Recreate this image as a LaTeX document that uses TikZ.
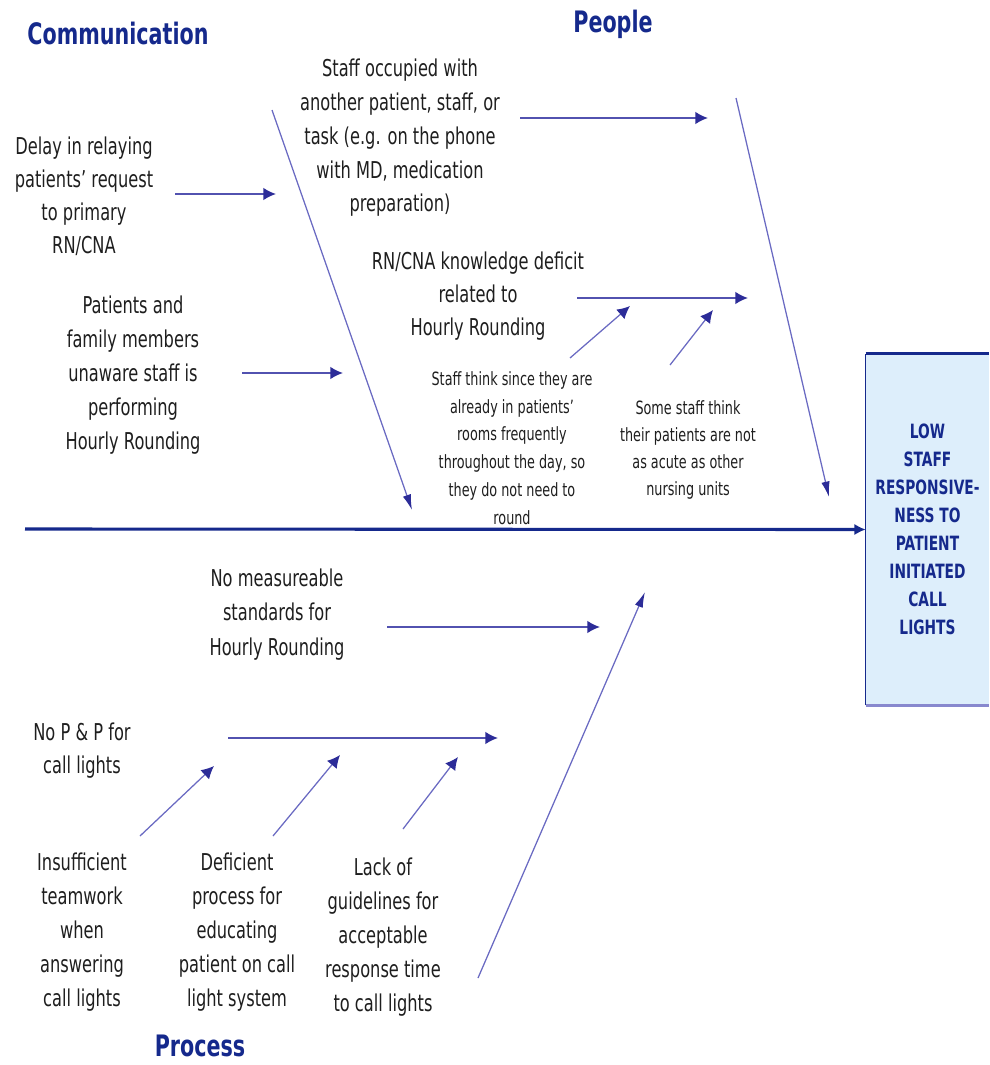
\documentclass[tikz,border=0pt]{standalone}
\usepackage{fontspec}
\setmainfont{DejaVu Sans}[FakeStretch=0.7]
\usepackage{xcolor}
\usetikzlibrary{arrows.meta}
\usetikzlibrary{calc}

\definecolor{navy}{HTML}{15298C}
\definecolor{bone}{HTML}{6A6AC2}
\definecolor{feedblue}{HTML}{5252B0}
\definecolor{tipblue}{HTML}{2C2C98}
\definecolor{boxfill}{HTML}{DDEEFB}
\definecolor{textgray}{HTML}{1E1E1E}

\tikzset{
  heading/.style={font=\fontsize{21}{25}\selectfont\bfseries, text=navy},
  cause/.style={align=center, text=textgray, font=\fontsize{16.5}{23.5}\selectfont},
  subcause/.style={align=center, text=textgray, font=\fontsize{13}{19.8}\selectfont},
  effectbox/.style={fill=boxfill, minimum width=3.075cm, minimum height=8.775cm,
    align=center, text=navy, font=\fontsize{14}{19.9}\selectfont\bfseries},
  feeds/.style={feedblue, line width=1.3pt, -{Latex[length=9pt,width=9pt,color=tipblue]}},
  bonearrow/.style={bone, line width=0.9pt, -{Latex[length=11pt,width=6pt,color=tipblue]}},
  spine/.style={navy, line width=2.2pt, -{Latex[length=8pt,width=8pt]}}
}

\begin{document}
\begin{tikzpicture}[x=0.025cm, y=-0.025cm]

      \useasboundingbox (0,0) rectangle (989,1065);

      % Headings
      \node[heading] (comm) at (118,33) {Communication};
      \node[heading] (people) at (613,24) {People};
      \node[heading] (process) at (200,1046) {Process};

      % Effect
      \node[effectbox] (effect) at (927.5,529.5) {LOW\\STAFF\\RESPONSIVE-\\NESS TO\\PATIENT\\INITIATED\\CALL\\LIGHTS};
      \draw[navy, line width=1pt] (effect.south west) -- (effect.north west);
      \draw[navy, line width=2.2pt] (effect.north west) -- (effect.north east);
      \draw[bone!80, line width=2.2pt] (effect.south west) -- (effect.south east);

      % Spine
      \coordinate (tail) at (25,529);
      \draw[spine] (tail) -- (effect.west);

      % Causes
      \node[cause] (delay) at (84,196.5) {Delay in relaying\\patients’ request\\to primary\\RN/CNA};
      \node[cause, font=\fontsize{16.5}{24}\selectfont] (occupied) at (400,138) {Staff occupied with\\another patient, staff, or\\task (e.g. on the phone\\with MD, medication\\preparation)};
      \node[cause, font=\fontsize{16.5}{24.2}\selectfont] (unaware) at (133,375.5) {Patients and\\family members\\unaware staff is\\performing\\Hourly Rounding};
      \node[cause] (deficit) at (478,296) {RN/CNA knowledge deficit\\related to\\Hourly Rounding};
      \node[subcause] (alreadyin) at (512,448) {Staff think since they are\\already in patients’\\rooms frequently\\throughout the day, so\\they do not need to\\round};
      \node[subcause, font=\fontsize{13}{19.2}\selectfont] (acute) at (688,449.5) {Some staff think\\their patients are not\\as acute as other\\nursing units};
      \node[cause, font=\fontsize{16.5}{24.5}\selectfont] (measure) at (277,614.5) {No measureable\\standards for\\Hourly Rounding};
      \node[cause] (nopp) at (82,750.5) {No P \& P for\\call lights};
      \node[cause, font=\fontsize{16.5}{24.2}\selectfont] (teamwork) at (82,932.5) {Insufficient\\teamwork\\when\\answering\\call lights};
      \node[cause, font=\fontsize{16.5}{24.2}\selectfont] (educating) at (237,932.5) {Deficient\\process for\\educating\\patient on call\\light system};
      \node[cause, font=\fontsize{16.5}{24.2}\selectfont] (guidelines) at (383,937) {Lack of\\guidelines for\\acceptable\\response time\\to call lights};

      % Bones
      \coordinate (commtop) at (272,110);
      \coordinate (commend) at (412,510);
      \coordinate (peopletop) at (736,98);
      \coordinate (peopleend) at (829,497);
      \coordinate (processfoot) at (478,978);
      \coordinate (processend) at (645,592);
      \draw[bonearrow] (commtop) -- (commend);
      \draw[bonearrow] (peopletop) -- (peopleend);
      \draw[bonearrow] (processfoot) -- (processend);

      % Horizontal cause arrows
      \foreach \nm/\xa/\xb/\y in {delay/175/276/194, occupied/520/708/118, unaware/242/343/373,
                                  deficit/577/748/298, measure/387/600/627, nopp/228/498/738}
      {
        \coordinate (\nm-from) at (\xa,\y);
        \coordinate (\nm-to) at (\xb,\y);
        \draw[feeds] (\nm-from) -- (\nm-to);
      }

      % Sub-cause arrows
      \foreach \nm/\xa/\ya/\xb/\yb in {alreadyin/570/358/630/306, acute/670/365/713/310,
                                       teamwork/140/836/214/766, educating/273/836/340/755,
                                       guidelines/403/829/458/757}
      {
        \coordinate (\nm-from) at (\xa,\ya);
        \coordinate (\nm-to) at (\xb,\yb);
        \draw[feeds, bone, line width=0.9pt] (\nm-from) -- (\nm-to);
      }

\end{tikzpicture}
\end{document}
